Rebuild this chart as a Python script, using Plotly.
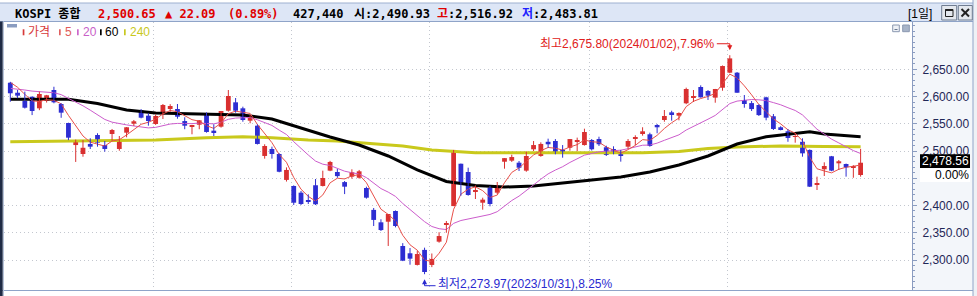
import plotly.graph_objects as go

# ---------------- data ----------------
opens = [2625.4, 2607, 2591.8, 2599.7, 2578.4, 2592.4, 2612, 2586.3, 2551.5, 2511,
         2494.6, 2513, 2529.4, 2511, 2531.3, 2503.8, 2533.7, 2550.2, 2574.8, 2564.9,
         2549.6, 2567.4, 2577.1, 2577.2, 2555, 2544.7, 2548.3, 2567.4, 2537.4, 2544.7,
         2574, 2589.4, 2578.4, 2555.7, 2546.5, 2491, 2503.8, 2494.6, 2447, 2435.9,
         2423.6, 2409, 2437.2, 2435.9, 2464, 2461.5, 2443, 2453, 2451, 2432.2,
         2392, 2369.2, 2370.3, 2390, 2325.8, 2312.4, 2291, 2318.6, 2291, 2333.7,
         2365, 2399, 2476.7, 2461.5, 2425.4, 2405.2, 2432.8, 2423.6, 2480.4, 2482.3,
         2478.6, 2464, 2503.2, 2491, 2517, 2518.4, 2502, 2506, 2516.6, 2511,
         2520.3, 2522, 2506.9, 2503.8, 2493, 2508, 2523.4, 2532.6, 2530.7, 2547.8,
         2557, 2571, 2564.9, 2587.6, 2598, 2617.5, 2610.2, 2598, 2616.2, 2643.8,
         2643.8, 2593.7, 2588, 2584.5, 2598.6, 2563.8, 2543.6, 2536.2, 2525.8, 2517,
         2502, 2438.2, 2466.5, 2490.4, 2477.5, 2476.2, 2468.9, 2456]
highs = [2627, 2612, 2609, 2600, 2609, 2603, 2618, 2588, 2552, 2521,
         2520, 2523.4, 2532.6, 2518.4, 2540.5, 2527.6, 2544, 2557, 2577, 2569.3,
         2567, 2586.3, 2586, 2586.3, 2562, 2548, 2556.8, 2571, 2549, 2573.5,
         2612, 2597.3, 2581.4, 2566, 2549, 2512.4, 2508, 2496, 2470, 2437,
         2426.7, 2420.6, 2448.7, 2464, 2482, 2467, 2445, 2466.5, 2465.3, 2434.6,
         2395.5, 2374.8, 2384.5, 2391, 2331, 2322, 2317, 2322.7, 2312, 2351,
         2371.6, 2502, 2477, 2469.5, 2437, 2414.4, 2435.9, 2443.2, 2487, 2493.3,
         2481.7, 2498.8, 2518.4, 2516, 2522.7, 2522, 2511, 2522, 2524.6, 2541,
         2522, 2526.3, 2509.8, 2508.7, 2502, 2522, 2528.9, 2543.6, 2533.7, 2549.6,
         2575.3, 2574, 2571, 2616.3, 2612, 2620.6, 2612, 2614, 2657, 2675.8,
         2645, 2602.8, 2591.8, 2586, 2599.7, 2568, 2545.5, 2540, 2532.6, 2523.4,
         2503, 2453, 2479.3, 2491, 2483.6, 2477, 2474, 2504]
lows = [2590.5, 2597, 2578, 2566, 2575, 2589, 2587.6, 2561, 2520, 2480,
        2489.6, 2503.7, 2508, 2498.8, 2519, 2500.6, 2525.2, 2546, 2560, 2546.5,
        2548, 2558.8, 2572, 2559.3, 2540, 2530.7, 2540, 2533.7, 2527.6, 2543,
        2572.2, 2570.4, 2553.8, 2551, 2512, 2486, 2486, 2461, 2444, 2401,
        2401, 2402.8, 2401, 2435, 2463, 2451, 2421, 2449.3, 2449.3, 2412.6,
        2362.4, 2353.3, 2325.8, 2360, 2298, 2291.4, 2290, 2273.97, 2287, 2331.8,
        2350, 2399, 2418, 2418, 2412, 2392.4, 2398.6, 2421, 2467.6, 2480,
        2463.4, 2462, 2500, 2489.6, 2506, 2494, 2487.8, 2500.6, 2500, 2510,
        2501, 2509.3, 2490.9, 2494, 2480.5, 2504.3, 2511, 2528.2, 2508, 2532.6,
        2553.8, 2555.7, 2556.4, 2586, 2590, 2598, 2593.7, 2588.7, 2610.7, 2643,
        2607, 2579.5, 2573.5, 2564.3, 2556.4, 2538.6, 2538, 2517, 2515.3, 2489.6,
        2434, 2428.5, 2454.2, 2463, 2465.3, 2453, 2451, 2453]
closes = [2606, 2601.6, 2579.5, 2573.5, 2604.7, 2602.3, 2589.4, 2570.4, 2524.5, 2520.3,
          2506, 2508, 2515.3, 2503.8, 2538.6, 2521.5, 2543.6, 2554.6, 2561.2, 2555.1,
          2564.3, 2584.5, 2582.7, 2563, 2546.5, 2547.8, 2556.4, 2535, 2534.4, 2573.5,
          2601, 2574, 2557, 2562, 2513, 2509.3, 2494.6, 2462, 2465.3, 2405.2,
          2402.8, 2406.5, 2402.3, 2450.5, 2480, 2454, 2434.6, 2461, 2462.8, 2414.4,
          2373.6, 2355, 2384.5, 2362.4, 2298.8, 2302.5, 2311, 2278, 2302, 2344,
          2368, 2502, 2442, 2419.3, 2427.9, 2410.8, 2402.8, 2434, 2487, 2489,
          2469.4, 2490.9, 2511, 2513, 2512.4, 2495.1, 2494.6, 2522, 2520.3, 2535,
          2503.2, 2512.4, 2492.7, 2495.1, 2491, 2518.4, 2525.2, 2536.2, 2509.3, 2543.6,
          2564.3, 2567.4, 2569.8, 2613.9, 2601, 2598.6, 2601.6, 2613.9, 2656, 2670,
          2607, 2586.3, 2577, 2566, 2561.2, 2540.5, 2538.6, 2524, 2527.6, 2495.8,
          2434.6, 2441.4, 2472.6, 2464, 2481.2, 2470.2, 2471.3, 2478.56]

# moving-average values at the start of the window
ma5_head = [2626, 2617, 2604, 2592]
ma20_head = [2615, 2614, 2612, 2610, 2609, 2608, 2607, 2603.5, 2597, 2590,
             2583, 2575, 2566, 2558, 2553, 2550, 2548, 2546, 2544]
# 60 / 240 day lines (at these candle indices)
ma60_idx = [0, 8, 12, 16, 20, 24, 28, 32, 36, 40, 44, 48, 52, 56, 60, 64, 68, 72,
            76, 80, 84, 88, 92, 96, 100, 104, 108, 110, 112, 117]
ma60_val = [2595, 2595, 2587.2, 2575.3, 2569.8, 2568.9, 2568, 2566.1, 2558.8, 2542.3,
            2525.8, 2511.1, 2490.9, 2465.3, 2444.1, 2436.8, 2434, 2435.9, 2441.4, 2447.8,
            2452.4, 2461.5, 2474.4, 2490.9, 2512.9, 2526.3, 2532.6, 2535.5, 2531.3, 2526.3]
ma240_idx = [0, 13, 20, 27, 32, 36, 41, 45, 49, 54, 58, 64, 75, 87, 92, 96, 100, 106, 112, 117]
ma240_val = [2517.1, 2518.4, 2520.3, 2524.5, 2526.3, 2524.5, 2520.3, 2518.4, 2514.8, 2509.3,
             2502, 2497, 2497, 2497, 2499.2, 2504.7, 2507.4, 2509.3, 2508.3, 2508]

month_start_idx = [20, 39, 58, 80, 99]
y_ticks = [2300, 2350, 2400, 2450, 2500, 2550, 2600, 2650]
# the 2,450 label sits under the percent box in the reference, so it stays blank
y_tick_text = ["2,300.00", "2,350.00", "2,400.00", "", "2,500.00", "2,550.00",
               "2,600.00", "2,650.00"]

index_name = "KOSPI 종합"
last_price = "2,500.65"
change = "22.09"
change_pct = "0.89%"
volume = "427,440"
open_px = "2,490.93"
high_px = "2,516.92"
low_px = "2,483.81"
period_label = "[1일]"
high_date = "2024/01/02"
low_date = "2023/10/31"
legend_items = ["가격", "5", "20", "60", "240"]

# ---------------- derived ----------------
n = len(closes)
idx = list(range(n))


def wma(vals, period, head):
    out = list(head)
    w = list(range(1, period + 1))
    for i in range(period - 1, len(vals)):
        seg = vals[i - period + 1:i + 1]
        out.append(sum(a * b for a, b in zip(w, seg)) / sum(w))
    return out


ma5 = wma(closes, 5, ma5_head)
ma20 = wma(closes, 20, ma20_head)

RED = "#d93030"
BLUE = "#2e2ed2"

# ---------------- pixel helpers (layout only) ----------------
PL, PR, PT, PB = 4.0, 912.0, 22.0, 290.0


def fx(p):
    return (p - PL) / (PR - PL)


def fy(p):
    return (PB - p) / (PB - PT)


fig = go.Figure()

fig.add_trace(go.Scatter(x=ma240_idx, y=ma240_val, mode="lines",
                         line=dict(color="#c9c91c", width=3), hoverinfo="skip"))
fig.add_trace(go.Scatter(x=ma60_idx, y=ma60_val, mode="lines",
                         line=dict(color="#000000", width=3), hoverinfo="skip"))
fig.add_trace(go.Scatter(x=idx, y=ma20, mode="lines",
                         line=dict(color="#cc5ccc", width=1), hoverinfo="skip"))
fig.add_trace(go.Scatter(x=idx, y=ma5, mode="lines",
                         line=dict(color="#e8504a", width=1), hoverinfo="skip"))

# wicks
for up, col in ((True, RED), (False, BLUE)):
    wx, wy = [], []
    for i in idx:
        if (closes[i] >= opens[i]) == up:
            wx += [i, i, None]
            wy += [lows[i], highs[i], None]
    fig.add_trace(go.Scatter(x=wx, y=wy, mode="lines", line=dict(color=col, width=1),
                             hoverinfo="skip"))

# bodies
body_base = [min(o, c) for o, c in zip(opens, closes)]
body_h = [max(abs(c - o), 1.8) for o, c in zip(opens, closes)]
body_col = [RED if c >= o else BLUE for o, c in zip(opens, closes)]
fig.add_trace(go.Bar(x=idx, y=body_h, base=body_base, width=0.66,
                     marker=dict(color=body_col, line=dict(width=0)), hoverinfo="skip"))

shapes = []


def rect(x0, y0, x1, y1, fill, line=None, lw=0, layer="below"):
    shapes.append(dict(type="rect", xref="paper", yref="paper",
                       x0=fx(x0), x1=fx(x1), y0=fy(y1), y1=fy(y0),
                       fillcolor=fill, line=dict(color=line or fill, width=lw), layer=layer))


def seg(x0, y0, x1, y1, color, w=1, layer="above"):
    shapes.append(dict(type="line", xref="paper", yref="paper",
                       x0=fx(x0), x1=fx(x1), y0=fy(y0), y1=fy(y1),
                       line=dict(color=color, width=w), layer=layer))


# frame
rect(0, 3, 973, 21.5, "#dde6f6")
seg(0, 3, 973, 3, "#9eb0d0")
seg(0, 21.5, 973, 21.5, "#8fa4c8")
rect(912.5, 21.5, 973, 290.5, "#f3f6fa")
rect(973, 0, 977, 296, "#eef1f5")
seg(973, 0, 973, 296, "#8fa4c8")
seg(0, 290.5, 973, 290.5, "#8fa4c8")
rect(0, 21.5, 2.7, 296, "#1f2b45", layer="above")
seg(3.5, 21.5, 3.5, 296, "#b8c4da")

# title bar buttons
rect(941.7, 5.5, 956.7, 20, "#e4e8ee", "#6f7c90", 1, layer="above")
rect(958.3, 5.5, 972.3, 20, "#e4e8ee", "#6f7c90", 1, layer="above")
rect(945.5, 9.5, 953, 16.5, "rgba(0,0,0,0)", "#222222", 1, layer="above")
seg(945.5, 10, 953, 10, "#222222", 2)
seg(961.5, 9, 969, 16.5, "#222222", 2)
seg(961.5, 16.5, 969, 9, "#222222", 2)

# small chart buttons
rect(892.7, 25, 899.3, 31.7, "#eef1f6", "#8a98b0", 1, layer="above")
seg(894.5, 29.5, 897.5, 29.5, "#6a7890", 1)
rect(902.7, 25, 909.3, 31.7, "#a8b4c8", "#8a98b0", 1, layer="above")

# legend marker
rect(7, 24, 17, 27.5, "#8a9cc0", layer="above")
legend_cols = ["#d63a3a", "#e06060", "#cc66cc", "#000000", "#c8c820"]
legend_bar_x = [22.7, 59, 77, 100, 124]
legend_txt_x = [27, 64, 81.5, 103.5, 129]
for bx, c in zip(legend_bar_x, legend_cols):
    rect(bx, 29.3, bx + 1.7, 35.3, c, layer="above")

# extreme markers
hi_i = max(idx, key=lambda i: highs[i])
lo_i = min(idx, key=lambda i: lows[i])
last = closes[-1]
hi_pct = (highs[hi_i] - last) / last * 100
lo_pct = (last - lows[lo_i]) / last * 100
high_label = f"최고{highs[hi_i]:,.2f}({high_date}),{hi_pct:.2f}%"
low_label = f"최저{lows[lo_i]:,.2f}({low_date}),{lo_pct:.2f}%"

shapes.append(dict(type="path", xref="x", yref="y", xsizemode="pixel", ysizemode="pixel",
                   xanchor=hi_i, yanchor=highs[hi_i], path="M -13,11.5 L 0,11.5 L 0,7",
                   line=dict(color="#e02020", width=1), layer="above"))
shapes.append(dict(type="path", xref="x", yref="y", xsizemode="pixel", ysizemode="pixel",
                   xanchor=lo_i, yanchor=lows[lo_i], path="M 0,-7 L 0,-11.5 L 11,-11.5",
                   line=dict(color="#2a2ad0", width=1), layer="above"))

# price marker on the axis
shapes.append(dict(type="rect", xref="paper", yref="y", ysizemode="pixel", yanchor=last,
                   x0=fx(920), x1=fx(970), y0=-5.2, y1=8.4,
                   fillcolor="#000000", line=dict(width=0), layer="above"))
shapes.append(dict(type="rect", xref="paper", yref="y", ysizemode="pixel", yanchor=last,
                   x0=fx(920), x1=fx(970), y0=-19.2, y1=-5.6,
                   fillcolor="#ffffff", line=dict(width=0), layer="above"))

ann = []
tfont = dict(family="DejaVu Sans Mono, Noto Sans CJK KR, monospace", size=12, color="#000000")


def tl(px, text, color="#000000", font=None, py=13.5):
    f = dict(font or tfont)
    f["color"] = color
    ann.append(dict(xref="paper", yref="paper", x=fx(px), y=fy(py), xanchor="left",
                    yanchor="middle", text=text, showarrow=False, font=f, borderpad=0))


TRED = "#e00000"
tl(14, f"<b>{index_name}</b>")
tl(97, f"<b>{last_price}</b>", TRED)
tl(164, f"<b>▲ {change}</b>", TRED)
tl(227, f"<b>({change_pct})</b>", TRED)
tl(292, f"<b>{volume}</b>")
tl(353, f"<b>시:{open_px}</b>")
tl(436, f"<b><span style='color:{TRED}'>고</span>:{high_px}</b>")
tl(521, f"<b><span style='color:#2020ff'>저</span>:{low_px}</b>")
tl(907, period_label, "#000000",
   dict(family="Liberation Sans, Noto Sans CJK KR, sans-serif", size=12))

lfont = dict(family="Liberation Sans, Noto Sans CJK KR, sans-serif", size=12)
legend_txt_cols = ["#d83a3a", "#e05a5a", "#c860c8", "#000000", "#c8c81e"]
for tx, t, c in zip(legend_txt_x, legend_items, legend_txt_cols):
    tl(tx, t, c, lfont, py=32.3)

afont = dict(family="Liberation Sans, Noto Sans CJK KR, sans-serif", size=12)
ann.append(dict(xref="x", yref="y", x=hi_i, y=highs[hi_i], text=high_label, showarrow=False,
                xanchor="right", yanchor="middle", xshift=-14, yshift=11,
                font=dict(afont, color="#e02020"), borderpad=0))
ann.append(dict(xref="x", yref="y", x=hi_i, y=highs[hi_i], text="", showarrow=True,
                ax=0, ay=-12, standoff=5, arrowhead=2, arrowsize=1, arrowwidth=1,
                arrowcolor="#e02020"))
ann.append(dict(xref="x", yref="y", x=lo_i, y=lows[lo_i], text=low_label, showarrow=False,
                xanchor="left", yanchor="middle", xshift=12, yshift=-10,
                font=dict(afont, color="#2a2ad0"), borderpad=0))
ann.append(dict(xref="x", yref="y", x=lo_i, y=lows[lo_i], text="", showarrow=True,
                ax=0, ay=12, standoff=5, arrowhead=2, arrowsize=1, arrowwidth=1,
                arrowcolor="#2a2ad0"))

ann.append(dict(xref="paper", yref="y", x=fx(969.5), y=last, text=f"{last:,.2f}",
                showarrow=False, xanchor="right", yanchor="middle", yshift=1.6,
                font=dict(family="Liberation Sans, Arial, sans-serif", size=12, color="#ffffff"),
                borderpad=0))
ann.append(dict(xref="paper", yref="y", x=fx(969.5), y=last, text="0.00%",
                showarrow=False, xanchor="right", yanchor="middle", yshift=-12.4,
                font=dict(family="Liberation Sans, Arial, sans-serif", size=12, color="#000000"),
                borderpad=0))

grid_x = [m - 0.33 for m in month_start_idx]

fig.update_layout(
    width=977, height=296,
    margin=dict(l=4, r=65, t=22, b=6, pad=0, autoexpand=False),
    paper_bgcolor="#ffffff", plot_bgcolor="#ffffff",
    showlegend=False, barmode="overlay", hovermode=False,
    shapes=shapes, annotations=ann,
    xaxis=dict(range=[-0.867, 124.07], tickmode="array", tickvals=grid_x,
               showticklabels=False, ticks="", showgrid=True, gridcolor="#c3c7cf",
               gridwidth=1, griddash="1px,3px", zeroline=False, showline=False,
               fixedrange=True),
    yaxis=dict(side="right", range=[2245, 2736.8], tickmode="array", tickvals=y_ticks,
               ticktext=y_tick_text,
               tickfont=dict(family="Liberation Sans, Arial, sans-serif", size=12, color="#1f2757"),
               ticks="outside", ticklen=4, tickwidth=1, tickcolor="#8a9cc0",
               showline=True, linecolor="#8a9cc0", linewidth=1,
               showgrid=True, gridcolor="#c3c7cf", gridwidth=1, griddash="1px,3px",
               zeroline=False, ticklabelstandoff=3,
               minor=dict(tickmode="linear", tick0=2300, dtick=10, ticks="outside",
                          ticklen=2, tickcolor="#8a9cc0", showgrid=False),
               fixedrange=True),
)

fig.write_html("out.html", config={"displayModeBar": False})
